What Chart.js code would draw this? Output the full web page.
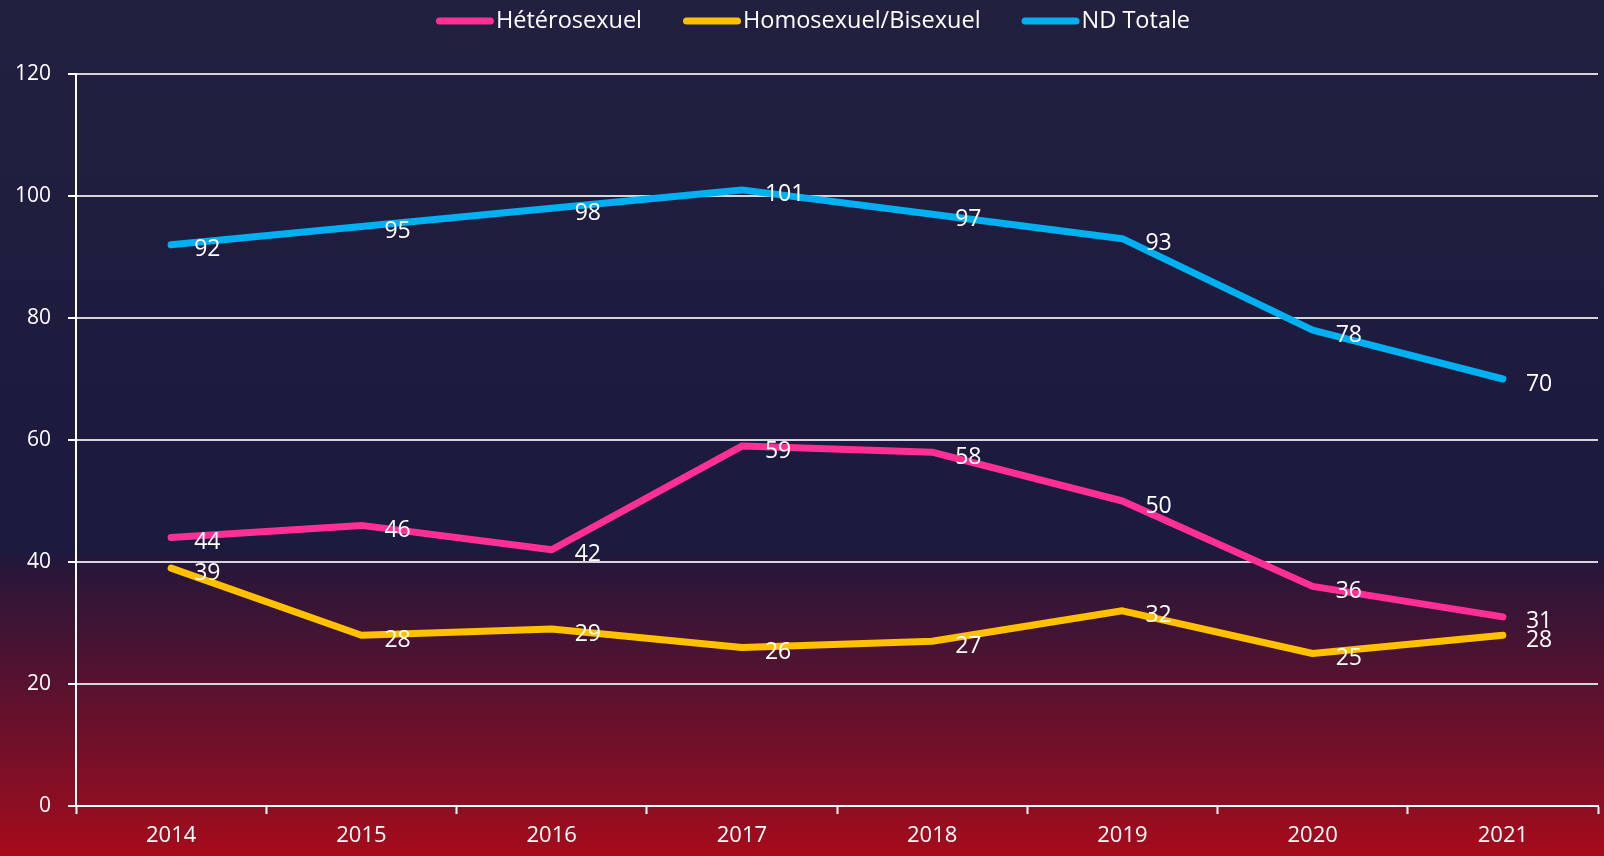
<!DOCTYPE html>
<html>
<head>
<meta charset="utf-8">
<script src="https://cdn.jsdelivr.net/npm/chart.js@4.4.1/dist/chart.umd.min.js"></script>
<style>
  html, body { margin: 0; padding: 0; background: #1c1b3d; }
  #wrap { width: 1604px; height: 856px; }
</style>
</head>
<body>
<div id="wrap"><canvas id="myChart" width="1604" height="856"></canvas></div>
<script>
  const years = ['2014', '2015', '2016', '2017', '2018', '2019', '2020', '2021'];
  const hetero = [44, 46, 42, 59, 58, 50, 36, 31];
  const homoBi = [39, 28, 29, 26, 27, 32, 25, 28];
  const ndTotale = [92, 95, 98, 101, 97, 93, 78, 70];
  const yTicks = [0, 20, 40, 60, 80, 100, 120];

  const FONT = "'Open Sans', 'Noto Sans', sans-serif";

  // dark navy to deep red behind the whole canvas
  const background = {
    id: 'background',
    beforeDraw(chart) {
      const c = chart.ctx;
      const g = c.createLinearGradient(0, 0, 0, chart.height);
      g.addColorStop(0, '#21203f');
      g.addColorStop(0.64, '#1b1a3f');
      g.addColorStop(0.67, '#2b1639');
      g.addColorStop(0.8, '#58122f');
      g.addColorStop(0.94, '#8c0e23');
      g.addColorStop(1, '#a70b1a');
      c.save();
      c.fillStyle = g;
      c.fillRect(0, 0, chart.width, chart.height);
      c.restore();
    }
  };

  // legend row: a short thick line followed by the series name
  const lineLegend = {
    id: 'lineLegend',
    afterDraw(chart) {
      const c = chart.ctx;
      const sw = 58, gap = 41, y = 21;
      c.save();
      c.font = '23.5px ' + FONT;
      c.textBaseline = 'middle';
      c.textAlign = 'left';
      const items = chart.data.datasets.map(ds => ({
        ds, w: sw + 2 + c.measureText(ds.label).width
      }));
      const total = items.reduce((s, it) => s + it.w, 0) + gap * (items.length - 1);
      let x = chart.width / 2 + 11 - total / 2;
      items.forEach(it => {
        c.strokeStyle = it.ds.borderColor;
        c.lineWidth = 7;
        c.lineCap = 'round';
        c.beginPath();
        c.moveTo(x + 3.5, y);
        c.lineTo(x + sw - 3.5, y);
        c.stroke();
        c.fillStyle = '#ffffff';
        c.fillText(it.ds.label, x + sw + 2, y);
        x += it.w + gap;
      });
      c.restore();
    }
  };

  // value labels to the right of each point
  const pointLabels = {
    id: 'pointLabels',
    afterDatasetsDraw(chart) {
      const c = chart.ctx;
      c.save();
      c.fillStyle = '#ffffff';
      c.font = '23px ' + FONT;
      c.textAlign = 'left';
      c.textBaseline = 'middle';
      chart.data.datasets.forEach((ds, i) => {
        chart.getDatasetMeta(i).data.forEach((pt, j) => {
          c.fillText(String(ds.data[j]), pt.x + 23, pt.y + 5);
        });
      });
      c.restore();
    }
  };

  const ctx = document.getElementById('myChart').getContext('2d');
  const myChart = new Chart(ctx, {
    type: 'line',
    data: {
      labels: years,
      datasets: [
        { label: 'Hétérosexuel', data: hetero, borderColor: '#ff2f96', backgroundColor: '#ff2f96' },
        { label: 'Homosexuel/Bisexuel', data: homoBi, borderColor: '#ffc000', backgroundColor: '#ffc000' },
        { label: 'ND Totale', data: ndTotale, borderColor: '#00b0f0', backgroundColor: '#00b0f0' }
      ]
    },
    options: {
      responsive: false,
      animation: false,
      layout: { padding: { top: 74, right: 6, bottom: 0, left: 0 } },
      elements: {
        line: { borderWidth: 7, tension: 0, borderCapStyle: 'round', borderJoinStyle: 'round' },
        point: { radius: 0, hoverRadius: 0 }
      },
      plugins: {
        legend: { display: false },
        tooltip: { enabled: false }
      },
      scales: {
        x: {
          offset: true,
          grid: {
            offset: true,
            drawOnChartArea: false,
            drawTicks: true,
            tickLength: 8,
            tickWidth: 2,
            tickColor: '#ffffff'
          },
          border: { color: '#ffffff', width: 2 },
          ticks: { color: '#ffffff', font: { family: FONT, size: 22 }, padding: 9, maxRotation: 0 },
          afterFit(scale) { scale.height = 50; }
        },
        y: {
          min: 0,
          max: 120,
          afterBuildTicks(scale) { scale.ticks = yTicks.map(v => ({ value: v })); },
          grid: {
            color: '#d6d6da',
            lineWidth: 2,
            tickLength: 8,
            tickColor: '#ffffff',
            tickWidth: 2
          },
          border: { color: '#ffffff', width: 2 },
          ticks: { color: '#ffffff', font: { family: FONT, size: 21 }, padding: 17 },
          afterFit(scale) { scale.width = 76; }
        }
      }
    },
    plugins: [background, pointLabels, lineLegend]
  });
</script>
</body>
</html>
